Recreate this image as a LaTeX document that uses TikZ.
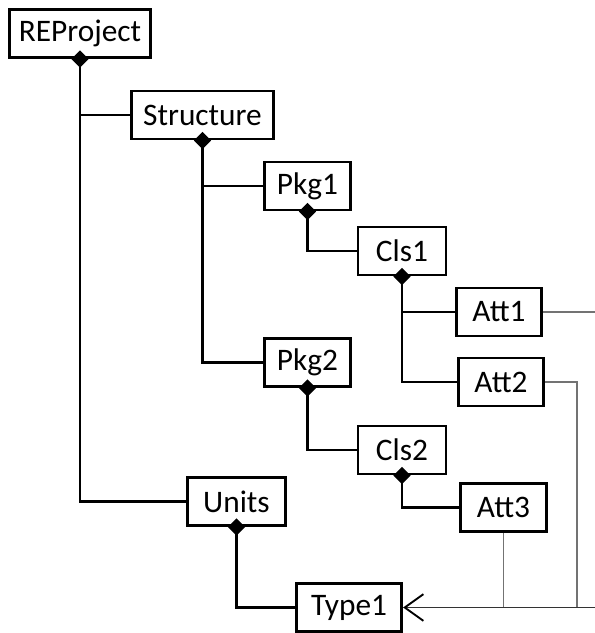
\documentclass[tikz,border=0pt]{standalone}
\usepackage{fontspec}
\setmainfont{Carlito}
\usetikzlibrary{shapes.geometric,arrows.meta}

\tikzset{
  box/.style={draw, line width=2.2pt, minimum height=36pt, inner sep=0pt,
    font=\fontsize{23.5}{26}\selectfont},
  part/.style={line width=2.2pt},
  assoc/.style={line width=1.1pt, draw=black!55},
  owner/.style={diamond, fill=black, inner sep=0pt, minimum width=13pt, minimum height=13pt}
}

\begin{document}
\begin{tikzpicture}[x=0.75pt, y=-0.75pt]

    % --- Frame (pixel units, y down) ---
    \useasboundingbox (0,0) rectangle (595,633);

    % --- Boxes ---
    \node[box, minimum width=106pt] (REProject) at (80,33.5)  {REProject};
    \node[box, minimum width=107pt] (Structure) at (202.5,115) {Structure};
    \node[box, minimum width=65pt]  (Pkg1)      at (307.5,186) {Pkg1};
    \node[box, minimum width=66pt]  (Cls1)      at (402,251)   {Cls1};
    \node[box, minimum width=64pt]  (Att1)      at (499,312)   {Att1};
    \node[box, minimum width=64pt]  (Att2)      at (501,382)   {Att2};
    \node[box, minimum width=65pt]  (Pkg2)      at (307.5,362.5) {Pkg2};
    \node[box, minimum width=66pt]  (Cls2)      at (402,450)   {Cls2};
    \node[box, minimum width=64pt]  (Att3)      at (503.5,507.5) {Att3};
    \node[box, minimum width=74pt]  (Units)     at (236.5,501.5) {Units};
    \node[box, minimum width=79pt]  (Type1)     at (349,607.5) {Type1};

    % --- Loose ends at the right border ---
    \coordinate (edge1) at (595,312);
    \coordinate (edge2) at (595,607.5);
    \coordinate (join2) at (577,607.5);

    % --- Composition lines ---
    \draw[part] (REProject.south) |- (Structure.west);
    \draw[part] (REProject.south) |- (Units.west);
    \draw[part] (Structure.south) |- (Pkg1.west);
    \draw[part] (Structure.south) |- (Pkg2.west);
    \draw[part] (Pkg1.south) |- (Cls1.west);
    \draw[part] (Cls1.south) |- (Att1.west);
    \draw[part] (Cls1.south) |- (Att2.west);
    \draw[part] (Pkg2.south) |- (Cls2.west);
    \draw[part] (Cls2.south) |- (Att3.west);
    \draw[part] (Units.south) |- (Type1.west);

    % --- Type references ---
    \draw[assoc] (Att1.east) -- (edge1);
    \draw[assoc] (Att2.east) -| (join2);
    \draw[assoc] (Att3.south) -- (Att3.south |- Type1.east);
    \draw[assoc, draw=black!80, -{Straight Barb[length=14pt, width=20pt, line width=1.4pt, black]}]
        (edge2) -- (Type1.east);

    % --- Diamonds ---
    \foreach \n in {REProject,Structure,Pkg1,Cls1,Pkg2,Cls2,Units}
        \node[owner] (\n-own) at (\n.south) {};

\end{tikzpicture}
\end{document}
